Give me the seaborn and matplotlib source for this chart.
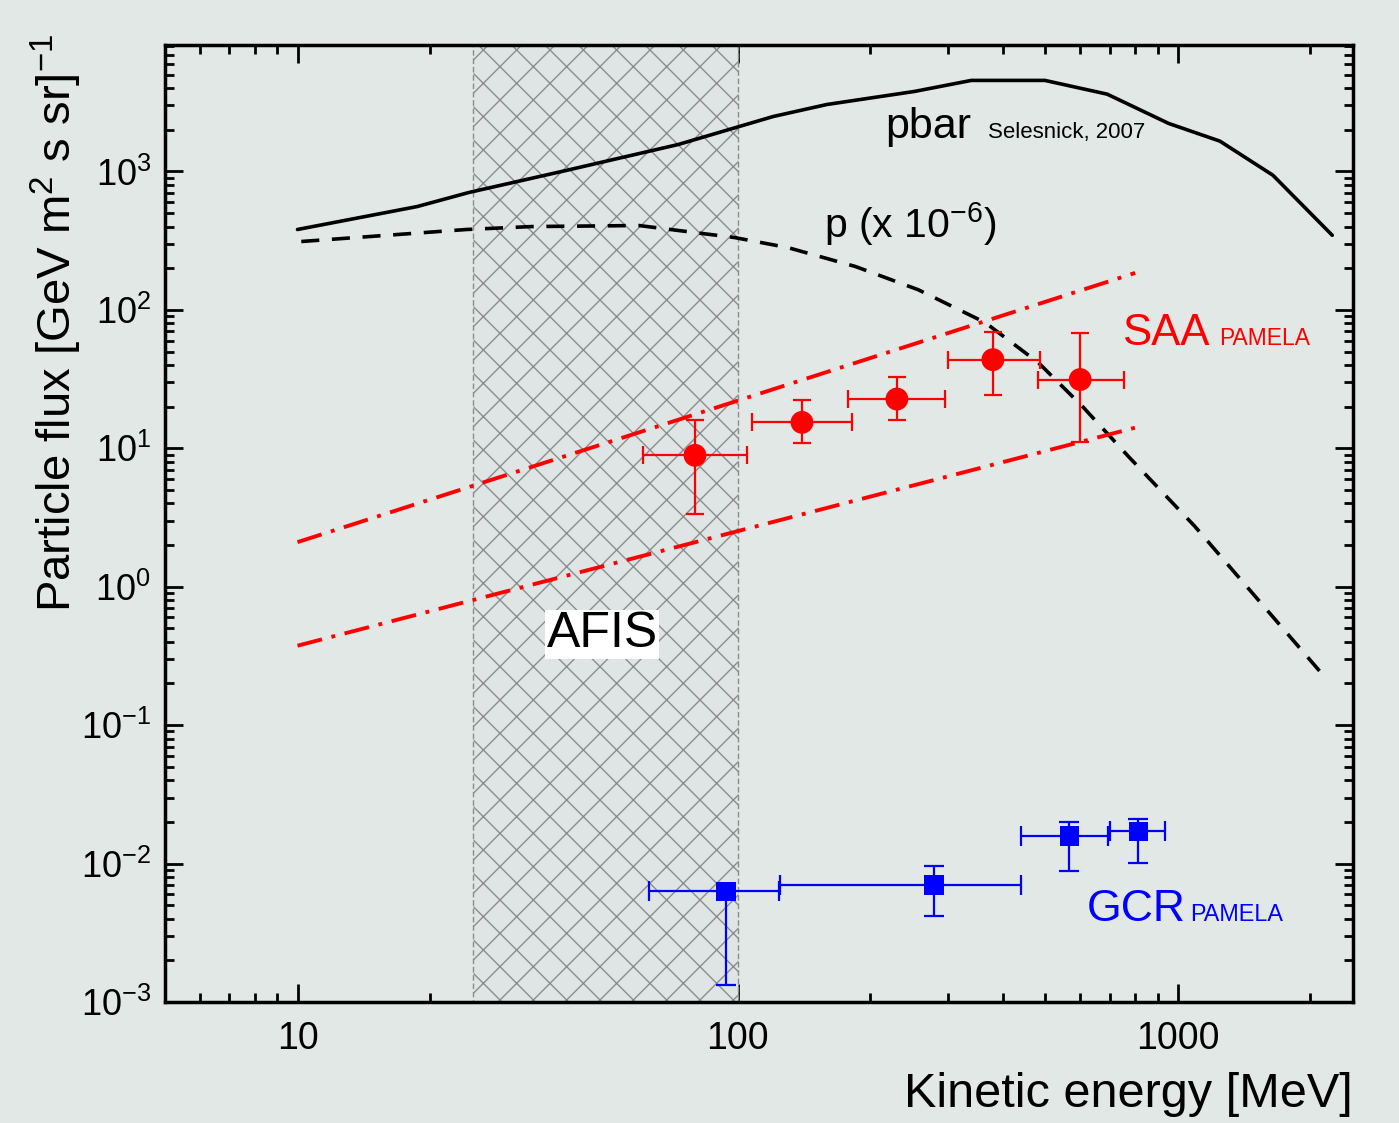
import numpy as np
import matplotlib
matplotlib.use("Agg")
import matplotlib.pyplot as plt
from matplotlib.ticker import LogLocator, FixedLocator, NullFormatter, LogFormatterSciNotation
import seaborn as sns

# pbar flux (Selesnick, 2007)
pbar_e = [10, 18.7, 24.5, 40.1, 73.3, 97.4, 120.5, 159.5, 251.8, 339.5, 498.8, 691, 953, 1246, 1644, 2243]
pbar_f = [381, 558, 705, 1005, 1567, 2046, 2497, 3048, 3784, 4550, 4550, 3620, 2224, 1657, 940, 346]

# proton flux x 1e-6
p_e = [10.2, 24.2, 34.0, 59.7, 98.5, 130, 185, 257, 365, 482, 607, 772, 1093, 2183]
p_f = [312, 381, 400, 407, 333, 282, 206, 140, 81, 41.6, 20.1, 8.74, 2.73, 0.213]

# SAA band limits
saa_band_e = [10, 800]
saa_band_hi = [2.1, 185]
saa_band_lo = [0.375, 14.1]

# SAA PAMELA points
saa_e = [80, 140, 230, 380, 600]
saa_f = [8.9, 15.4, 22.7, 43.7, 31.4]
saa_e_lo = [61, 108, 178, 300, 482]
saa_e_hi = [105, 182, 296, 485, 753]
saa_f_lo = [3.37, 10.9, 16.1, 24.4, 11.1]
saa_f_hi = [15.9, 22.2, 33, 68.9, 67.8]

# GCR PAMELA points
gcr_e = [94, 279, 567, 814]
gcr_f = [6.3e-3, 7.0e-3, 1.59e-2, 1.71e-2]
gcr_e_lo = [63, 125, 441, 701]
gcr_e_hi = [124, 441, 693, 936]
gcr_f_lo = [1.32e-3, 4.16e-3, 8.86e-3, 1.01e-2]
gcr_f_hi = [6.6e-3, 9.56e-3, 1.99e-2, 2.10e-2]

afis_lo, afis_hi = 25, 100

x_major = [10, 100, 1000]
y_major = [1e-3, 1e-2, 1e-1, 1, 10, 100, 1000]

sns.set_style("ticks")
plt.rcParams['font.family'] = ['Liberation Sans', 'DejaVu Sans']
plt.rcParams['mathtext.fontset'] = 'custom'
plt.rcParams['mathtext.rm'] = 'Liberation Sans'
plt.rcParams['mathtext.it'] = 'Liberation Sans:italic'
plt.rcParams['hatch.linewidth'] = 1.0
plt.rcParams['text.color'] = 'black'
plt.rcParams['axes.labelcolor'] = 'black'
plt.rcParams['xtick.color'] = 'black'
plt.rcParams['ytick.color'] = 'black'

bg = '#e1e8e6'
fig = plt.figure(figsize=(13.99, 11.23), dpi=100, facecolor=bg)
ax = fig.add_axes([165/1399, 1-1002/1123, 1188/1399, 957/1123])
ax.set_facecolor(bg)
ax.set_xscale('log')
ax.set_yscale('log')

# AFIS region
ax.axvspan(afis_lo, afis_hi, facecolor='#dfe4e4', edgecolor='#8c8c8c', hatch='x',
           linewidth=1.0, linestyle=(0, (4, 2)), zorder=1)

sns.lineplot(x=pbar_e, y=pbar_f, color='black', linewidth=2.6, ax=ax, zorder=3)
sns.lineplot(x=p_e, y=p_f, color='black', linewidth=2.6, linestyle=(0, (5, 3.5)), ax=ax, zorder=3)
sns.lineplot(x=saa_band_e, y=saa_band_hi, color='red', linewidth=2.8,
             linestyle=(0, (6.5, 2.5, 1, 2.5)), ax=ax, zorder=3)
sns.lineplot(x=saa_band_e, y=saa_band_lo, color='red', linewidth=2.8,
             linestyle=(0, (6.5, 2.5, 1, 2.5)), ax=ax, zorder=3)

saa_xerr = [np.array(saa_e) - np.array(saa_e_lo), np.array(saa_e_hi) - np.array(saa_e)]
saa_yerr = [np.array(saa_f) - np.array(saa_f_lo), np.array(saa_f_hi) - np.array(saa_f)]
ax.errorbar(saa_e, saa_f, xerr=saa_xerr, yerr=saa_yerr, fmt='none', ecolor='red',
            elinewidth=1.6, capsize=6.5, capthick=1.6, zorder=4)
sns.scatterplot(x=saa_e, y=saa_f, color='red', marker='o', s=270, edgecolor='none', ax=ax, zorder=5)

gcr_xerr = [np.array(gcr_e) - np.array(gcr_e_lo), np.array(gcr_e_hi) - np.array(gcr_e)]
gcr_yerr = [np.array(gcr_f) - np.array(gcr_f_lo), np.array(gcr_f_hi) - np.array(gcr_f)]
ax.errorbar(gcr_e, gcr_f, xerr=gcr_xerr, yerr=gcr_yerr, fmt='none', ecolor='blue',
            elinewidth=1.6, capsize=7, capthick=1.6, zorder=4)
sns.scatterplot(x=gcr_e, y=gcr_f, color='blue', marker='s', s=200, edgecolor='none', ax=ax, zorder=5)

ax.set_xlim(5, 2500)
ax.set_ylim(1e-3, 8200)

ax.xaxis.set_major_locator(FixedLocator(x_major))
ax.set_xticklabels([str(v) for v in x_major])
ax.xaxis.set_minor_locator(LogLocator(base=10, subs=np.arange(2, 10), numticks=20))
ax.xaxis.set_minor_formatter(NullFormatter())
ax.yaxis.set_major_locator(FixedLocator(y_major))
ax.yaxis.set_major_formatter(LogFormatterSciNotation())
ax.yaxis.set_minor_locator(LogLocator(base=10, subs=np.arange(2, 10), numticks=20))
ax.yaxis.set_minor_formatter(NullFormatter())
ax.xaxis.offsetText.set_visible(False)
ax.yaxis.offsetText.set_visible(False)

ax.tick_params(which='both', direction='in', top=True, right=True, width=2.0, color='black')
ax.tick_params(which='major', length=13)
ax.tick_params(which='minor', length=6.5)
ax.tick_params(axis='x', which='major', labelsize=27, pad=14)
ax.tick_params(axis='y', which='major', labelsize=26, pad=10)
for sp in ax.spines.values():
    sp.set_linewidth(2.5)
    sp.set_color('black')

ax.set_xlabel('Kinetic energy [MeV]', fontsize=35)
ax.xaxis.set_label_coords(1.0, -0.097)
ax.xaxis.label.set_ha('right')
ax.xaxis.label.set_va('center')
ax.set_ylabel(r'Particle flux [GeV m$^{2}$ s sr]$^{-1}$', fontsize=34)
ax.yaxis.set_label_coords(-0.091, 0.71)
ax.yaxis.label.set_va('center')

ax.text(0.606, 0.903, 'pbar', fontsize=31, transform=ax.transAxes, va='baseline', ha='left')
ax.text(0.693, 0.903, 'Selesnick, 2007', fontsize=16, transform=ax.transAxes, va='baseline', ha='left')
ax.text(0.555, 0.799, r'p (x 10$^{-6}$)', fontsize=29.5, transform=ax.transAxes, va='baseline', ha='left')
ax.text(0.806, 0.6865, 'SAA', fontsize=31.5, color='red', transform=ax.transAxes, va='baseline', ha='left')
ax.text(0.887, 0.6865, 'PAMELA', fontsize=16.5, color='red', transform=ax.transAxes, va='baseline', ha='left')
ax.text(0.776, 0.0846, 'GCR', fontsize=32, color='blue', transform=ax.transAxes, va='baseline', ha='left')
ax.text(0.863, 0.0846, 'PAMELA', fontsize=16.8, color='blue', transform=ax.transAxes, va='baseline', ha='left')
ax.text(0.368, 0.3845, 'AFIS', fontsize=36, transform=ax.transAxes, va='center', ha='center', zorder=6,
        bbox=dict(facecolor='white', edgecolor='none', pad=1.0))

fig.savefig('out.png', dpi=100, facecolor=fig.get_facecolor())
plt.close(fig)
